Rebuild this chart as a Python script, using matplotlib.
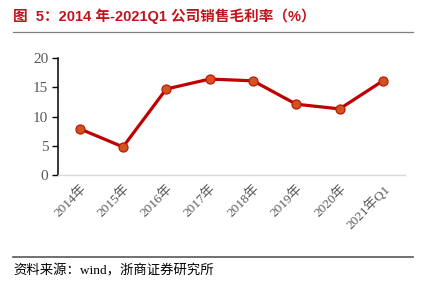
import matplotlib
matplotlib.use("Agg")
import matplotlib.pyplot as plt
from matplotlib.lines import Line2D

categories = ["2014年", "2015年", "2016年", "2017年", "2018年", "2019年", "2020年", "2021年Q1"]
gross_margin = [7.9, 4.8, 14.7, 16.4, 16.1, 12.1, 11.3, 16.1]
yticks = [0, 5, 10, 15, 20]

title = "图  5：2014 年-2021Q1 公司销售毛利率（%）"
source = "资料来源：wind，浙商证券研究所"

serif = ["Liberation Serif", "Noto Sans CJK SC"]
sans = ["Liberation Sans", "Noto Sans CJK SC"]

fig = plt.figure(figsize=(4.3, 2.95), dpi=100)
ax = fig.add_axes([58/430, 1-175/295, (404.6-58)/430, (175-58)/295])

x = list(range(len(categories)))
ax.plot(x, gross_margin, color="#C00000", lw=2.3, marker="o", ms=6.5,
        mfc="#D4531C", mec="#B81A10", mew=0.9, zorder=3)

ax.set_xlim(-0.5, len(categories) - 0.5)
ax.set_ylim(0, 20)
ax.set_yticks(yticks)
ax.set_yticklabels([str(v) for v in yticks], family=serif, fontsize=11, color="#595959")
ax.set_xticks(x)
ax.set_xticklabels(categories, family=serif, fontsize=9.5, color="#595959",
                   rotation=45, ha="right", rotation_mode="anchor")
ax.tick_params(axis="x", length=0, pad=5)
ax.tick_params(axis="y", length=4, width=1, color="black", pad=3, direction="out")
for s in ["top", "right"]:
    ax.spines[s].set_visible(False)
ax.spines["left"].set_color("black")
ax.spines["left"].set_linewidth(1.1)
ax.spines["bottom"].set_color("#D9D9D9")
ax.spines["bottom"].set_linewidth(1.0)

fig.text(13/430, 1-16/295, title, family=sans, fontweight="bold", fontsize=10.5,
         color="#C0141C", ha="left", va="center")
fig.add_artist(Line2D([13/430, 413/430], [1-31.5/295, 1-31.5/295],
                      color="#7F7F7F", lw=0.9, transform=fig.transFigure))
fig.add_artist(Line2D([13/430, 413/430], [1-256.5/295, 1-256.5/295],
                      color="#595959", lw=1.2, transform=fig.transFigure))
fig.text(13/430, 1-271/295, source, family=["Liberation Serif", "Noto Sans CJK SC"],
         fontsize=9.6, color="black", ha="left", va="center")

fig.savefig("out.png", dpi=100)
